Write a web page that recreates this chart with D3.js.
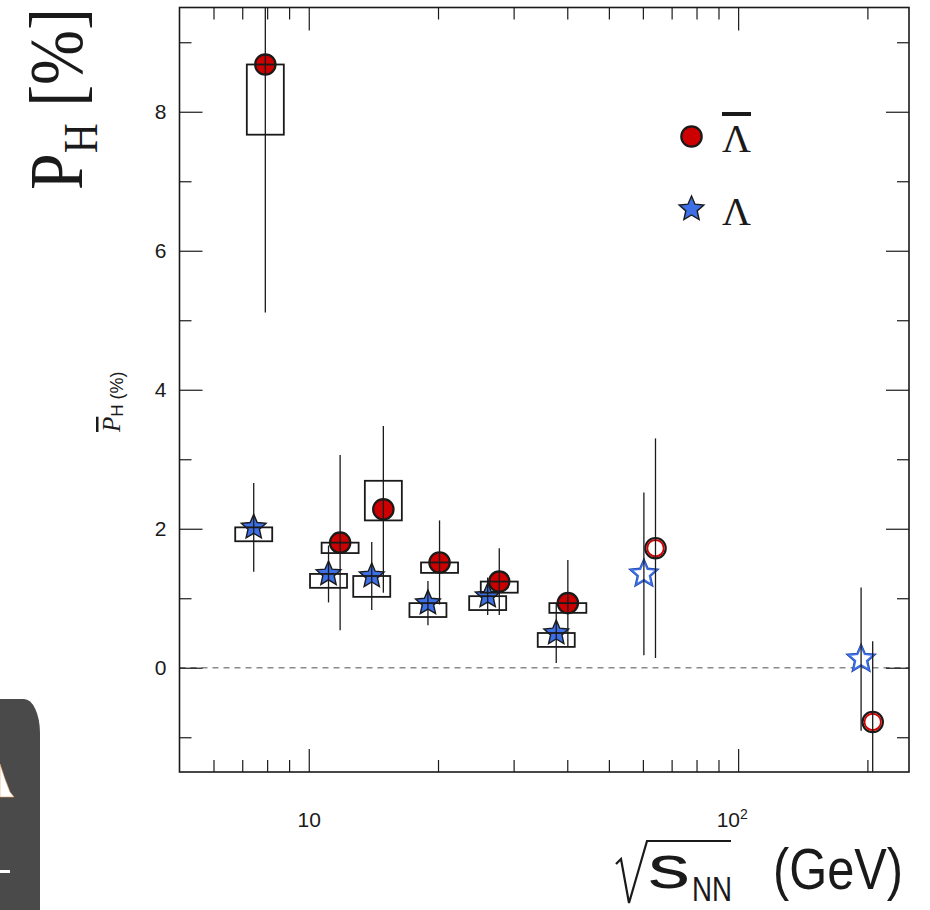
<!DOCTYPE html>
<html>
<head>
<meta charset="utf-8">
<script src="https://cdn.jsdelivr.net/npm/d3@7"></script>
<style>
  html, body { margin: 0; padding: 0; background: #fff; }
  svg { display: block; }
</style>
</head>
<body>
<svg id="chart" width="930" height="910"></svg>
<script>
// Collision energies (GeV) shared by both hyperon species
const energies = [7.7, 11.5, 14.5, 19.6, 27, 39, 62.4, 200];

// Lambda global polarization (%)
const lambdaP       = [2.02, 1.35, 1.32, 0.93, 1.03, 0.50, 1.35, 0.125];
const lambdaStat    = [0.64, 0.41, 0.49, 0.32, 0.27, 0.43, 1.17, 1.03];
const lambdaSysLow  = [0.20, 0.20, 0.30, 0.20, 0.20, 0.20, 0, 0];
const lambdaSysHigh = [0, 0, 0, 0, 0, 0, 0, 0];

// Anti-Lambda global polarization (%)
const antiP       = [8.68, 1.80, 2.28, 1.515, 1.24, 0.93, 1.72, -0.78];
const antiStat    = [3.57, 1.26, 1.20, 0.605, 0.48, 0.62, 1.58, 1.16];
const antiSysLow  = [1.01, 0.15, 0.16, 0.15, 0.16, 0.14, 0, 0];
const antiSysHigh = [0, 0, 0.41, 0, 0, 0, 0, 0];

// Earlier measurements drawn with open markers
const hollow = [0, 0, 0, 0, 0, 0, 1, 1];

// Axis ticks
const xMajorTicks = [10, 100];
const xMinorTicks = [6, 7, 8, 9, 20, 30, 40, 50, 60, 70, 80, 90, 200];
const yMajorTicks = [0, 2, 4, 6, 8];
const yMinorTicks = [-1, 1, 3, 5, 7, 9];

// Legend entries
const legendLabels = ["Λ", "Λ"];
const legendBar = [true, false];

const svg = d3.select("#chart");
const SANS = "'Liberation Sans', Arial, Helvetica, sans-serif";
const SERIF = "'Liberation Serif', 'Times New Roman', serif";

const X0 = 179.5, X1 = 909, Y0 = 7.5, Y1 = 772;
const x = d3.scaleLog().domain([5, 250]).range([X0, X1]);
const y = d3.scaleLinear().domain([-1.5, 9.5]).range([Y1, Y0]);

const RED = "#cc0000", BLUE = "#3d6fe6", INK = "#1a1a1a";
const SHIFT_L = -6.3, SHIFT_A = 5.3;   // side-by-side offsets so species don't overlap
const BOX_HW = 18.5;

svg.append("defs").append("clipPath").attr("id", "frameClip")
  .append("rect").attr("x", X0).attr("y", Y0).attr("width", X1 - X0).attr("height", Y1 - Y0);

// Decoration in the lower-left corner
svg.append("path")
  .attr("d", `M0,699 H24 A16,34 0 0 1 40,733 V910 H0 Z`)
  .attr("fill", "#4a4a4a");
svg.append("path")
  .attr("d", "M0,764 L5,779 L10,792 L14,797 L0,797 Z")
  .attr("fill", "#fff").attr("stroke", "#e0a060").attr("stroke-width", 0.6);
svg.append("rect").attr("x", 0).attr("y", 870).attr("width", 10).attr("height", 3).attr("fill", "#fff");

// Zero line
svg.append("line")
  .attr("x1", X0).attr("x2", X1).attr("y1", y(0)).attr("y2", y(0))
  .attr("stroke", "#8a8a8a").attr("stroke-width", 1.6).attr("stroke-dasharray", "6,5");

// Axes (ticks point inward, mirrored on the opposite sides)
function styleAxis(g) {
  g.select(".domain").remove();
  g.selectAll(".tick line").attr("stroke", INK).attr("stroke-width", 1.2);
}
svg.append("g").attr("transform", `translate(0,${Y1})`)
  .call(d3.axisBottom(x).tickValues(xMinorTicks).tickSize(-12).tickFormat(""))
  .call(styleAxis);
const xAxisG = svg.append("g").attr("transform", `translate(0,${Y1})`)
  .call(d3.axisBottom(x).tickValues(xMajorTicks).tickSize(-23).tickPadding(40)
    .tickFormat(d => d === 10 ? "10" : ""))
  .call(styleAxis);
xAxisG.selectAll(".tick text").attr("font-family", SANS).attr("font-size", 21).attr("fill", INK);
xAxisG.selectAll(".tick").filter(d => d === 100).select("text")
  .attr("text-anchor", "start").attr("x", -22)
  .call(t => {
    t.append("tspan").text("10");
    t.append("tspan").text("2").attr("font-size", 14).attr("dy", -8);
  });

svg.append("g").attr("transform", `translate(0,${Y0})`)
  .call(d3.axisTop(x).tickValues(xMinorTicks).tickSize(-12).tickFormat(""))
  .call(styleAxis);
svg.append("g").attr("transform", `translate(0,${Y0})`)
  .call(d3.axisTop(x).tickValues(xMajorTicks).tickSize(-23).tickFormat(""))
  .call(styleAxis);

svg.append("g").attr("transform", `translate(${X0},0)`)
  .call(d3.axisLeft(y).tickValues(yMinorTicks).tickSize(-12).tickFormat(""))
  .call(styleAxis);
const yAxisG = svg.append("g").attr("transform", `translate(${X0},0)`)
  .call(d3.axisLeft(y).tickValues(yMajorTicks).tickSize(-23).tickPadding(13).tickFormat(d3.format("d")))
  .call(styleAxis);
yAxisG.selectAll(".tick text").attr("font-family", SANS).attr("font-size", 21).attr("fill", INK);

svg.append("g").attr("transform", `translate(${X1},0)`)
  .call(d3.axisRight(y).tickValues(yMinorTicks).tickSize(-12).tickFormat(""))
  .call(styleAxis);
svg.append("g").attr("transform", `translate(${X1},0)`)
  .call(d3.axisRight(y).tickValues(yMajorTicks).tickSize(-23).tickFormat(""))
  .call(styleAxis);

// Frame
svg.append("rect")
  .attr("x", X0).attr("y", Y0).attr("width", X1 - X0).attr("height", Y1 - Y0)
  .attr("fill", "none").attr("stroke", INK).attr("stroke-width", 1.6);

// Marker shapes
function starPath(R, ratio) {
  const pts = d3.range(10).map(k => {
    const a = -Math.PI / 2 + k * Math.PI / 5;
    const r = k % 2 ? R * ratio : R;
    return [r * Math.cos(a), r * Math.sin(a)];
  });
  return "M" + pts.map(p => p[0].toFixed(2) + "," + p[1].toFixed(2)).join("L") + "Z";
}
const STAR = starPath(13, 0.46);

function drawStar(g, cx, cy, open) {
  if (open) {
    g.append("path").attr("d", STAR).attr("transform", `translate(${cx},${cy})`)
      .attr("fill", "#fff").attr("stroke", "#1d3f9e").attr("stroke-width", 3).attr("stroke-linejoin", "miter");
    g.append("path").attr("d", STAR).attr("transform", `translate(${cx},${cy})`)
      .attr("fill", "#fff").attr("stroke", BLUE).attr("stroke-width", 1.8).attr("stroke-linejoin", "miter");
  } else {
    g.append("path").attr("d", STAR).attr("transform", `translate(${cx},${cy})`)
      .attr("fill", BLUE).attr("stroke", INK).attr("stroke-width", 1.4).attr("stroke-linejoin", "miter");
  }
}
function drawCircle(g, cx, cy, open) {
  if (open) {
    g.append("circle").attr("cx", cx).attr("cy", cy).attr("r", 10.2)
      .attr("fill", "#fff").attr("stroke", INK).attr("stroke-width", 2.2);
    g.append("circle").attr("cx", cx).attr("cy", cy).attr("r", 8.2)
      .attr("fill", "none").attr("stroke", "#d00000").attr("stroke-width", 1.8);
  } else {
    g.append("circle").attr("cx", cx).attr("cy", cy).attr("r", 10.2)
      .attr("fill", RED).attr("stroke", INK).attr("stroke-width", 2.2);
  }
}

const plot = svg.append("g").attr("clip-path", "url(#frameClip)");
const markG = plot.append("g");
const lineG = plot.append("g");

function drawSeries(vals, stat, sysLo, sysHi, shift, drawMarker) {
  energies.forEach((e, i) => {
    const cx = x(e) + shift;
    const cy = y(vals[i]);
    drawMarker(markG, cx, cy, hollow[i] === 1);
    // systematic box
    if (sysLo[i] > 0 || sysHi[i] > 0) {
      const top = y(vals[i] + sysHi[i]);
      const bot = y(vals[i] - sysLo[i]);
      lineG.append("rect")
        .attr("x", cx - BOX_HW).attr("y", top).attr("width", 2 * BOX_HW).attr("height", bot - top)
        .attr("fill", "none").attr("stroke", INK).attr("stroke-width", 1.8);
    }
    // statistical error bar
    lineG.append("line")
      .attr("x1", cx).attr("x2", cx)
      .attr("y1", y(vals[i] + stat[i])).attr("y2", y(vals[i] - stat[i]))
      .attr("stroke", INK).attr("stroke-width", 1.3);
  });
}
drawSeries(lambdaP, lambdaStat, lambdaSysLow, lambdaSysHigh, SHIFT_L, drawStar);
drawSeries(antiP, antiStat, antiSysLow, antiSysHigh, SHIFT_A, drawCircle);

// Legend
const legend = svg.append("g");
const legendRows = [136.5, 209];
legendLabels.forEach((lab, i) => {
  if (i === 0) drawCircle(legend, 691.5, legendRows[i], false);
  else drawStar(legend, 691.5, legendRows[i], false);
  legend.append("text")
    .attr("x", 722).attr("y", legendRows[i] + 15.5)
    .attr("font-family", SERIF).attr("font-size", 40).attr("fill", INK)
    .attr("text-decoration", legendBar[i] ? "overline" : null)
    .text(lab);
});

// Y-axis title
const yTitle = svg.append("g").attr("transform", "translate(82,190) rotate(-90)")
  .append("text").attr("font-family", SERIF).attr("font-size", 76).attr("fill", INK);
yTitle.append("tspan").text("P");
yTitle.append("tspan").text("H").attr("font-size", 48).attr("dy", 15);
yTitle.append("tspan").text(" [%]").attr("font-size", 76).attr("dy", -15);
{
  const len = yTitle.node().getComputedTextLength();
  yTitle.attr("transform", `scale(${182 / len},1)`);
}

// Secondary small y label
const ySmall = svg.append("g").attr("transform", "translate(123,432) rotate(-90)")
  .append("text").attr("fill", INK);
ySmall.append("tspan").text("P").attr("font-family", SERIF).attr("font-style", "italic")
  .attr("font-size", 25).attr("dy", -3).attr("text-decoration", "overline");
ySmall.append("tspan").text("H").attr("font-family", SANS).attr("font-size", 17).attr("dy", 3);
ySmall.append("tspan").text(" (%)").attr("font-family", SANS).attr("font-size", 18);

// X-axis title: sqrt(s_NN) (GeV)
svg.append("path")
  .attr("d", "M616,864 L621,859 L629,903 L647,841 L731,841")
  .attr("fill", "none").attr("stroke", INK).attr("stroke-width", 2.2).attr("stroke-linejoin", "miter");
svg.append("text").attr("x", 648).attr("y", 888)
  .attr("font-family", SANS).attr("font-size", 62).attr("fill", INK)
  .attr("textLength", 42).attr("lengthAdjust", "spacingAndGlyphs").text("s");
svg.append("text").attr("x", 692).attr("y", 901)
  .attr("font-family", SANS).attr("font-size", 35).attr("fill", INK)
  .attr("textLength", 40).attr("lengthAdjust", "spacingAndGlyphs").text("NN");
svg.append("text").attr("x", 773).attr("y", 889)
  .attr("font-family", SANS).attr("font-size", 58).attr("fill", INK)
  .attr("textLength", 130).attr("lengthAdjust", "spacingAndGlyphs").text("(GeV)");
</script>
</body>
</html>
